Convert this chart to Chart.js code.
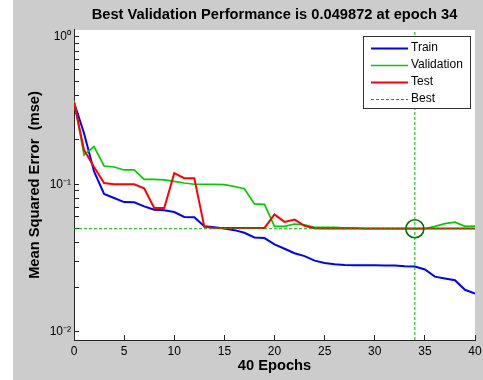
<!DOCTYPE html>
<html>
<head>
<meta charset="utf-8">
<script src="https://cdn.jsdelivr.net/npm/chart.js@4/dist/chart.umd.min.js"></script>
<style>
html,body{margin:0;padding:0;background:#ffffff;}
#wrap{width:483px;height:380px;position:relative;}
</style>
</head>
<body>
<div id="wrap"><canvas id="c" width="483" height="380"></canvas></div>
<script>
const epochs = [0,1,2,3,4,5,6,7,8,9,10,11,12,13,14,15,16,17,18,19,20,21,22,23,24,25,26,27,28,29,30,31,32,33,34,35,36,37,38,39,40];
const trainPerf = [0.36,0.222,0.122,0.086,0.0806,0.0757,0.0755,0.0707,0.0672,0.0665,0.0648,0.060,0.0597,0.0518,0.0510,0.0500,0.0488,0.0468,0.0435,0.0431,0.0391,0.0365,0.0340,0.0325,0.0303,0.0292,0.0286,0.0283,0.0282,0.0282,0.0282,0.0281,0.0281,0.0278,0.0276,0.0264,0.0236,0.0229,0.0223,0.0192,0.0181];
const valPerf = [0.37,0.158,0.18,0.133,0.131,0.125,0.125,0.108,0.108,0.107,0.1045,0.102,0.1,0.1,0.1,0.0994,0.0966,0.0933,0.0736,0.073,0.0518,0.0518,0.0537,0.053,0.051,0.051,0.051,0.0505,0.0505,0.050,0.050,0.050,0.050,0.050,0.049872,0.0499,0.0518,0.054,0.0553,0.0518,0.052];
const testPerf = [0.36,0.171,0.131,0.102,0.1,0.1,0.1,0.094,0.069,0.069,0.119,0.110,0.110,0.0513,0.0505,0.0505,0.0505,0.0505,0.0505,0.0505,0.0624,0.0555,0.0575,0.0522,0.0503,0.0501,0.0501,0.0501,0.0501,0.0501,0.0501,0.0501,0.0501,0.0501,0.0501,0.0501,0.0501,0.0501,0.0501,0.0501,0.0501];
const bestEpoch = 34;
const bestPerf = 0.049872;
const xTicks = [0,5,10,15,20,25,30,35,40];
const xTickLabels = ['0','5','10','15','20','25','30','35','40'];
const yMajorTicks = [0.01,0.1,1];
const yMajorLabels = ['10\u207B\u00B2','10\u207B\u00B9','10\u2070'];
const seriesNames = ['Train','Validation','Test','Best'];
const titleText = 'Best Validation Performance is 0.049872 at epoch 34';
const xTitle = '40 Epochs';
const yTitle = 'Mean Squared Error  (mse)';

const Y_MIN = 0.00876, Y_MAX = 1.115, X_MIN = 0, X_MAX = 40;
const FONT = "'Liberation Sans', Arial, sans-serif";
const TFONT = {family: FONT, size: 14.7, weight: 'bold', lineHeight: 1.2};

// minor log ticks derived from the decades
const yAllTicks = [];
yMajorTicks.forEach((m, i) => {
  yAllTicks.push(m);
  if (i < yMajorTicks.length - 1) for (let k = 2; k <= 9; k++) yAllTicks.push(+(m * k).toPrecision(3));
});

const pts = (ys) => epochs.map((e, i) => ({x: e, y: ys[i]}));

const bgPlugin = {
  id: 'bg',
  beforeDraw(chart) {
    const {ctx, chartArea: a} = chart;
    ctx.save();
    ctx.fillStyle = '#cccccc';
    ctx.fillRect(13, 0, chart.width - 13, chart.height);
    ctx.fillStyle = '#ffffff';
    ctx.fillRect(a.left, a.top, a.right - a.left, a.bottom - a.top);
    ctx.restore();
  }
};

const boxLegend = {
  id: 'boxLegend',
  afterDatasetsDraw(chart) {
    const {ctx, chartArea: a} = chart;
    const items = chart.data.datasets.filter(d => d.inLegend);
    const L = a.right - 112, T = a.top + 6, W = 107, H = 72;
    ctx.save();
    ctx.fillStyle = '#ffffff';
    ctx.fillRect(L, T, W, H);
    ctx.strokeStyle = '#333333';
    ctx.lineWidth = 1;
    ctx.setLineDash([]);
    ctx.strokeRect(L + 0.5, T + 0.5, W, H);
    ctx.font = '12px ' + FONT;
    ctx.textBaseline = 'middle';
    ctx.textAlign = 'left';
    items.forEach((d, i) => {
      const y = T + 11.5 + i * 17;
      ctx.strokeStyle = d.borderColor;
      ctx.lineWidth = d.borderWidth;
      ctx.setLineDash(d.borderDash || []);
      ctx.beginPath();
      ctx.moveTo(L + 8, Math.round(y) + 0.5);
      ctx.lineTo(L + 45, Math.round(y) + 0.5);
      ctx.stroke();
      ctx.setLineDash([]);
      ctx.fillStyle = '#000000';
      ctx.fillText(d.label, L + 48, y + 0.5);
    });
    ctx.restore();
  }
};

new Chart(document.getElementById('c'), {
  type: 'line',
  data: {
    datasets: [
      {label: seriesNames[0], inLegend: true, data: pts(trainPerf), borderColor: '#0000ff', borderWidth: 2, pointRadius: 0, tension: 0, order: 3},
      {label: seriesNames[1], inLegend: true, data: pts(valPerf), borderColor: '#00cc00', borderWidth: 1.7, pointRadius: 0, tension: 0, order: 2},
      {label: seriesNames[2], inLegend: true, data: pts(testPerf), borderColor: '#ff0000', borderWidth: 2, pointRadius: 0, tension: 0, order: 1},
      {label: seriesNames[3], inLegend: true, data: [{x: X_MIN, y: bestPerf}, {x: X_MAX, y: bestPerf}], borderColor: '#00b000', borderWidth: 1, borderDash: [3, 2], pointRadius: 0, tension: 0, order: 0},
      {label: 'bestEpochLine', data: [{x: bestEpoch, y: Y_MIN}, {x: bestEpoch, y: Y_MAX}], borderColor: '#00b000', borderWidth: 1, borderDash: [3, 2], pointRadius: 0, tension: 0, order: 0},
      {label: 'bestPoint', data: [{x: bestEpoch, y: bestPerf}], showLine: false, pointRadius: 9, pointStyle: 'circle', pointBorderColor: '#006e00', pointBackgroundColor: 'rgba(0,0,0,0)', pointBorderWidth: 1.6, borderColor: '#006e00', order: 0}
    ]
  },
  options: {
    responsive: false,
    animation: false,
    devicePixelRatio: 1,
    layout: {autoPadding: false, padding: {left: 0, right: 8, top: 0, bottom: 0}},
    plugins: {
      legend: {display: false},
      tooltip: {enabled: false},
      title: {
        display: true, text: titleText, fullSize: false, color: '#000000',
        font: TFONT,
        padding: {top: 6.5, bottom: 5.86}
      }
    },
    scales: {
      x: {
        type: 'linear', min: X_MIN, max: X_MAX,
        afterBuildTicks(s) { s.ticks = xTicks.map(v => ({value: v})); },
        afterFit(s) { s.height = 40; s.paddingLeft = 0; s.paddingRight = 0; },
        ticks: {
          autoSkip: false, maxRotation: 0, padding: 9, color: '#000000',
          font: {family: FONT, size: 12},
          callback(v) { const i = xTicks.indexOf(v); return i >= 0 ? xTickLabels[i] : ''; }
        },
        grid: {drawOnChartArea: false, drawTicks: true, tickLength: -5, color: '#262626', tickColor: '#262626'},
        border: {display: true, color: '#262626', width: 1},
        title: {display: true, text: xTitle, color: '#000000', font: TFONT, padding: {top: 0, bottom: 5.2}}
      },
      y: {
        type: 'logarithmic', min: Y_MIN, max: Y_MAX, bounds: 'data',
        afterBuildTicks(s) { s.ticks = yAllTicks.map(v => ({value: v, major: yMajorTicks.includes(v)})); },
        afterFit(s) { s.width = 74; s.paddingTop = 0; s.paddingBottom = 0; },
        ticks: {
          autoSkip: false, padding: 8, color: '#000000',
          font: {family: FONT, size: 12},
          callback(v) { const i = yMajorTicks.indexOf(v); return i >= 0 ? yMajorLabels[i] : ''; }
        },
        grid: {drawOnChartArea: false, drawTicks: true, tickLength: -5, color: '#262626', tickColor: '#262626'},
        border: {display: true, color: '#262626', width: 1},
        title: {display: true, text: yTitle, color: '#000000', font: TFONT, padding: {top: 26.2, bottom: 0}}
      }
    }
  },
  plugins: [bgPlugin, boxLegend]
});
</script>
</body>
</html>
